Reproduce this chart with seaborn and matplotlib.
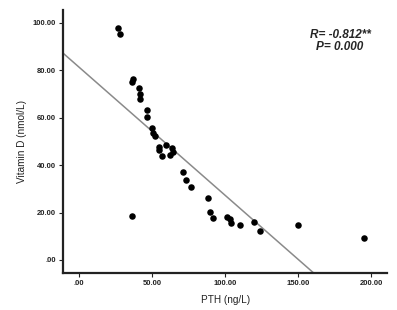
import matplotlib
matplotlib.use('Agg')
import matplotlib.pyplot as plt
import matplotlib.ticker as ticker
import seaborn as sns
import pandas as pd

# values
pth = [26.3, 28.1, 37.2, 36.5, 41.3, 41.8, 42.0, 46.4, 46.4, 49.8,
       50.9, 52.1, 54.4, 55.0, 59.6, 56.7, 63.5, 64.6, 62.4, 71.1,
       73.3, 76.6, 36.1, 88.2, 89.8, 92.0, 101.2, 103.5, 104.0, 110.3,
       119.9, 124.1, 150.3, 194.9]
vit_d = [97.8, 95.4, 76.4, 75.2, 72.4, 69.9, 67.9, 63.3, 60.2, 55.6,
         53.5, 52.3, 47.8, 46.4, 48.5, 43.9, 47.1, 45.7, 44.3, 37.3,
         33.8, 30.9, 18.6, 26.0, 20.1, 17.6, 18.0, 17.3, 15.5, 14.9,
         16.2, 12.4, 14.9, 9.4]

# fit line as shown (total fit)
fit_intercept = 81.3
fit_slope = -0.54

x_ticks = [0, 50, 100, 150, 200]
y_ticks = [0, 20, 40, 60, 80, 100]

stats_text = "R= -0.812**\nP= 0.000"

sns.set_style('white')
plt.rcParams['font.family'] = ['Liberation Sans', 'DejaVu Sans']

df = pd.DataFrame({'PTH': pth, 'VitD': vit_d})

fig = plt.figure(figsize=(3.97, 3.10), dpi=100)
ax = fig.add_axes([0.159, 0.120, 0.816, 0.848])

sns.scatterplot(data=df, x='PTH', y='VitD', color='black', s=22,
                edgecolor='black', linewidth=0, ax=ax, zorder=3)
ax.axline((0, fit_intercept), slope=fit_slope, color='#8a8a8a', linewidth=1.1, zorder=2)

ax.set_xlim(-11, 211)
ax.set_ylim(-5.4, 105.5)
ax.set_xticks(x_ticks)
ax.set_yticks(y_ticks)


def fmt(v, pos):
    s = f"{v:.2f}"
    return s[1:] if s.startswith('0') else s


ax.xaxis.set_major_formatter(ticker.FuncFormatter(fmt))
ax.yaxis.set_major_formatter(ticker.FuncFormatter(fmt))
ax.tick_params(axis='both', direction='out', length=3, width=0.8,
               labelsize=5.5, pad=2, colors='#222222', bottom=True, left=True)
for lbl in ax.get_xticklabels() + ax.get_yticklabels():
    lbl.set_fontweight('bold')

for side in ['top', 'right']:
    ax.spines[side].set_visible(False)
for side in ['left', 'bottom']:
    ax.spines[side].set_linewidth(1.6)
    ax.spines[side].set_color('#222222')

ax.set_xlabel("PTH (ng/L)", fontsize=7.2, labelpad=6, color='#222222')
ax.set_ylabel("Vitamin D (nmol/L)", fontsize=7.2, labelpad=4, color='#222222')

ax.text(0.855, 0.882, stats_text, transform=ax.transAxes, ha='center', va='center',
        fontsize=8.5, fontweight='bold', fontstyle='italic', linespacing=1.0)

fig.savefig('out.png', dpi=100)
